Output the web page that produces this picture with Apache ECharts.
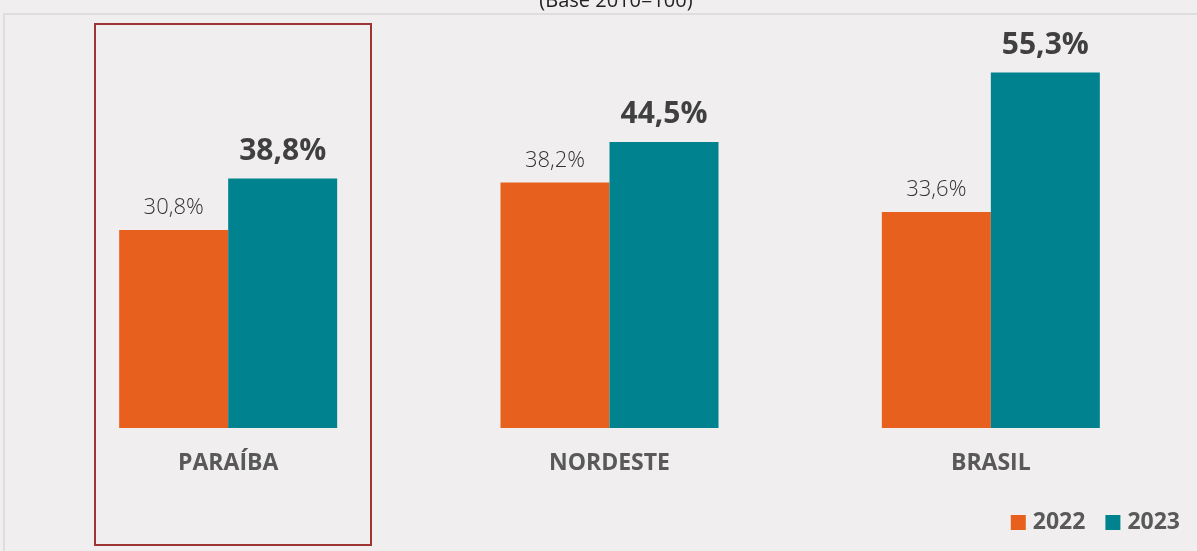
<!DOCTYPE html>
<html>
<head>
<meta charset="utf-8">
<script src="https://cdn.jsdelivr.net/npm/echarts@6/dist/echarts.min.js"></script>
<style>
  html, body { margin: 0; padding: 0; background: #f0eeef; }
  #main { width: 1197px; height: 551px; }
</style>
</head>
<body>
<div id="main"></div>
<script>
var regioes = ["PARAÍBA", "NORDESTE", "BRASIL"];
var valores2022 = [30.8, 38.2, 33.6];
var valores2023 = [38.8, 44.5, 55.3];
var anos = ["2022", "2023"];

var myChart = echarts.init(document.getElementById("main"));

function fmt(p) {
  return p.value.toFixed(1).replace(".", ",") + "%";
}

var option = {
  backgroundColor: "#f0eeef",
  textStyle: { fontFamily: "Open Sans" },
  animation: false,
  grid: { left: 37.5, right: 15.5, top: 14, bottom: 123 },
  legend: {
    data: anos,
    right: 12,
    top: 506,
    itemWidth: 15,
    itemHeight: 15,
    itemGap: 20,
    icon: "rect",
    textStyle: { fontSize: 23, fontWeight: "bold", color: "#595959", fontFamily: "Open Sans", padding: [0, 0, 0, 2] }
  },
  xAxis: {
    type: "category",
    data: regioes,
    axisLine: { show: false },
    axisTick: { show: false },
    axisLabel: {
      margin: 24,
      fontSize: 23,
      fontWeight: "bold",
      color: "#595959",
      fontFamily: "Open Sans"
    }
  },
  yAxis: {
    type: "value",
    min: 0,
    max: 64.4,
    show: false,
    splitLine: { show: false }
  },
  graphic: [
    {
      type: "text",
      x: 616,
      y: 11,
      style: {
        text: "(Base 2010=100)",
        fontSize: 20,
        fill: "#222",
        fontFamily: "Open Sans",
        align: "center",
        verticalAlign: "bottom"
      }
    },
    {
      type: "polyline",
      shape: { points: [[4, 560], [4, 14], [1210, 14]] },
      style: { stroke: "#d9d9d9", lineWidth: 1.5, fill: null }
    },
    {
      type: "rect",
      shape: { x: 95, y: 24, width: 276, height: 521 },
      style: { stroke: "#9e3535", lineWidth: 2, fill: null },
      z: 10
    }
  ],
  series: [
    {
      name: "2022",
      type: "bar",
      data: valores2022,
      barWidth: 109,
      barGap: "0%",
      itemStyle: { color: "#e8601e" },
      label: {
        show: true,
        position: "top",
        distance: 11,
        formatter: fmt,
        fontSize: 22,
        fontWeight: 300,
        color: "#333333",
        fontFamily: "Open Sans"
      }
    },
    {
      name: "2023",
      type: "bar",
      data: valores2023,
      barWidth: 109,
      barGap: "0%",
      itemStyle: { color: "#00838f" },
      label: {
        show: true,
        position: "top",
        distance: 12,
        formatter: fmt,
        fontSize: 30,
        fontWeight: "bold",
        color: "#404040",
        fontFamily: "Open Sans"
      }
    }
  ]
};

myChart.setOption(option);
</script>
</body>
</html>
